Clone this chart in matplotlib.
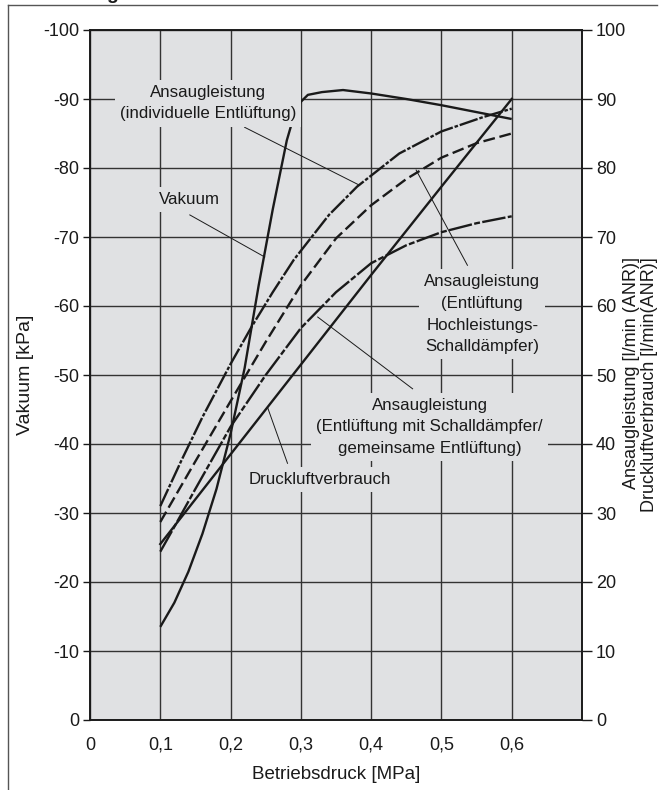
import matplotlib
matplotlib.use("Agg")
import matplotlib.pyplot as plt
from matplotlib.lines import Line2D

plt.rcParams['font.family'] = ['Liberation Sans', 'DejaVu Sans']
plt.rcParams['axes.unicode_minus'] = False

# data
x_ticks = [0, 0.1, 0.2, 0.3, 0.4, 0.5, 0.6]
x_tick_labels = ['0', '0,1', '0,2', '0,3', '0,4', '0,5', '0,6']
left_ticks = [-100, -90, -80, -70, -60, -50, -40, -30, -20, -10, 0]
right_ticks = [0, 10, 20, 30, 40, 50, 60, 70, 80, 90, 100]

# Vakuum [kPa] (left axis)
vak_p = [0.1, 0.12, 0.14, 0.16, 0.18, 0.2, 0.22, 0.24, 0.26, 0.28, 0.29, 0.3, 0.31,
         0.33, 0.36, 0.4, 0.45, 0.5, 0.55, 0.6]
vak_kpa = [-13.5, -17, -21.5, -27, -33.5, -41.5, -51, -63, -74, -84, -87.5, -89.6, -90.6,
           -91.0, -91.3, -90.8, -90.0, -89.1, -88.1, -87.1]

# Ansaugleistung individuelle Entlüftung [l/min]
ind_p = [0.1, 0.13, 0.16, 0.2, 0.23, 0.26, 0.29, 0.34, 0.38, 0.44, 0.5, 0.56, 0.6]
ind_q = [31, 37.6, 43.9, 51.6, 57, 62, 66.7, 73.2, 77.3, 82.1, 85.3, 87.4, 88.6]

# Ansaugleistung Hochleistungs-Schalldämpfer
hoch_p = [0.1, 0.15, 0.2, 0.25, 0.3, 0.35, 0.4, 0.45, 0.5, 0.55, 0.6]
hoch_q = [28.7, 37.5, 46.2, 54.8, 63, 69.8, 74.6, 78.4, 81.5, 83.6, 85]

# Ansaugleistung mit Schalldämpfer / gemeinsame Entlüftung
schall_p = [0.1, 0.12, 0.15, 0.2, 0.25, 0.3, 0.35, 0.4, 0.45, 0.5, 0.55, 0.6]
schall_q = [24.4, 28, 33.5, 42.5, 50, 56.8, 62, 66.2, 68.8, 70.7, 72, 73]

# Druckluftverbrauch
druck_p = [0.1, 0.2, 0.3, 0.4, 0.5, 0.6]
druck_q = [25.5, 38.5, 51.5, 64.5, 77.3, 90]

bg = '#e0e1e3'
ink = '#1a1a1a'
fs_tick = 13
fs_lab = 12.2

fig = plt.figure(figsize=(6.61, 7.9), dpi=100)
ax = fig.add_axes([90/661, 70/790, 492/661, 690/790])
ax.set_facecolor(bg)
ax.set_xlim(0, 0.7)
ax.set_ylim(0, -100)
ax.set_xticks(x_ticks)
ax.set_xticklabels(x_tick_labels)
ax.set_yticks(left_ticks)
ax.set_yticklabels([str(t) for t in left_ticks])
ax.grid(True, color='#333333', lw=1.0)
ax.set_axisbelow(True)
ax.tick_params(axis='y', length=5, width=1, pad=3, labelsize=fs_tick, colors=ink)
ax.tick_params(axis='x', length=0, pad=12, labelsize=fs_tick, colors=ink)
for s in ax.spines.values():
    s.set_linewidth(1.2)
    s.set_color(ink)
ax.set_ylabel('Vakuum [kPa]', fontsize=14, color=ink, labelpad=6)
ax.set_xlabel('Betriebsdruck [MPa]', fontsize=13.5, color=ink, labelpad=9)

ax2 = ax.twinx()
ax2.set_ylim(0, 100)
ax2.set_yticks(right_ticks)
ax2.tick_params(axis='y', length=7, width=1, pad=3, labelsize=fs_tick, colors=ink)
for s in ax2.spines.values():
    s.set_linewidth(1.2)
    s.set_color(ink)

lw = 1.7
ax.plot(vak_p, vak_kpa, color=ink, lw=lw, solid_capstyle='butt')
ax2.plot(ind_p, ind_q, color=ink, lw=lw, dashes=(8, 0.8, 1.5, 0.8))
ax2.plot(hoch_p, hoch_q, color=ink, lw=lw, dashes=(5, 2))
ax2.plot(schall_p, schall_q, color=ink, lw=lw, dashes=(10, 1.0, 2.5, 1.0))
ax2.plot(druck_p, druck_q, color=ink, lw=lw)

box = dict(boxstyle='square,pad=0.3', facecolor=bg, edgecolor='none')
labels = [
    ('Ansaugleistung\n(individuelle Entlüftung)', 0.1676, 89.4, (0.220, 85.9), (0.3835, 77.5)),
    ('Vakuum', 0.142, 75.4, (0.142, 73.2), (0.2486, 67.1)),
    ('Ansaugleistung\n(Entlüftung\nHochleistungs-\nSchalldämpfer)', 0.558, 58.8,
     (0.537, 65.9), (0.464, 79.7)),
    ('Ansaugleistung\n(Entlüftung mit Schalldämpfer/\ngemeinsame Entlüftung)', 0.483, 42.5,
     (0.459, 48.0), (0.324, 58.4)),
    ('Druckluftverbrauch', 0.3267, 34.9, (0.281, 37.2), (0.253, 45.2)),
]
for txt, tx, ty, a, b in labels:
    ax2.plot([a[0], b[0]], [a[1], b[1]], color=ink, lw=0.7)
    ax2.text(tx, ty, txt, ha='center', va='center', fontsize=fs_lab, color=ink,
             linespacing=1.55, bbox=box, zorder=5)

# right axis title, two rotated lines, top-aligned
fig.text(631/661, 1 - 257/790, 'Ansaugleistung [l/min (ANR)]', rotation=90,
         ha='center', va='top', fontsize=13, color=ink)
fig.text(650/661, 1 - 257/790, 'Druckluftverbrauch [l/min(ANR)]', rotation=90,
         ha='center', va='top', fontsize=13, color=ink)

# frame around the figure and cut-off heading
fig.add_artist(Line2D([8/661, 8/661], [0, 1 - 5/790], color='#555555', lw=1))
fig.add_artist(Line2D([8/661, 657/661], [1 - 5/790, 1 - 5/790], color='#555555', lw=1))
fig.text(106/661, 1 + 1/790, 'g', fontsize=14, fontweight='bold', va='baseline', color=ink)

fig.savefig('out.png', dpi=100)
